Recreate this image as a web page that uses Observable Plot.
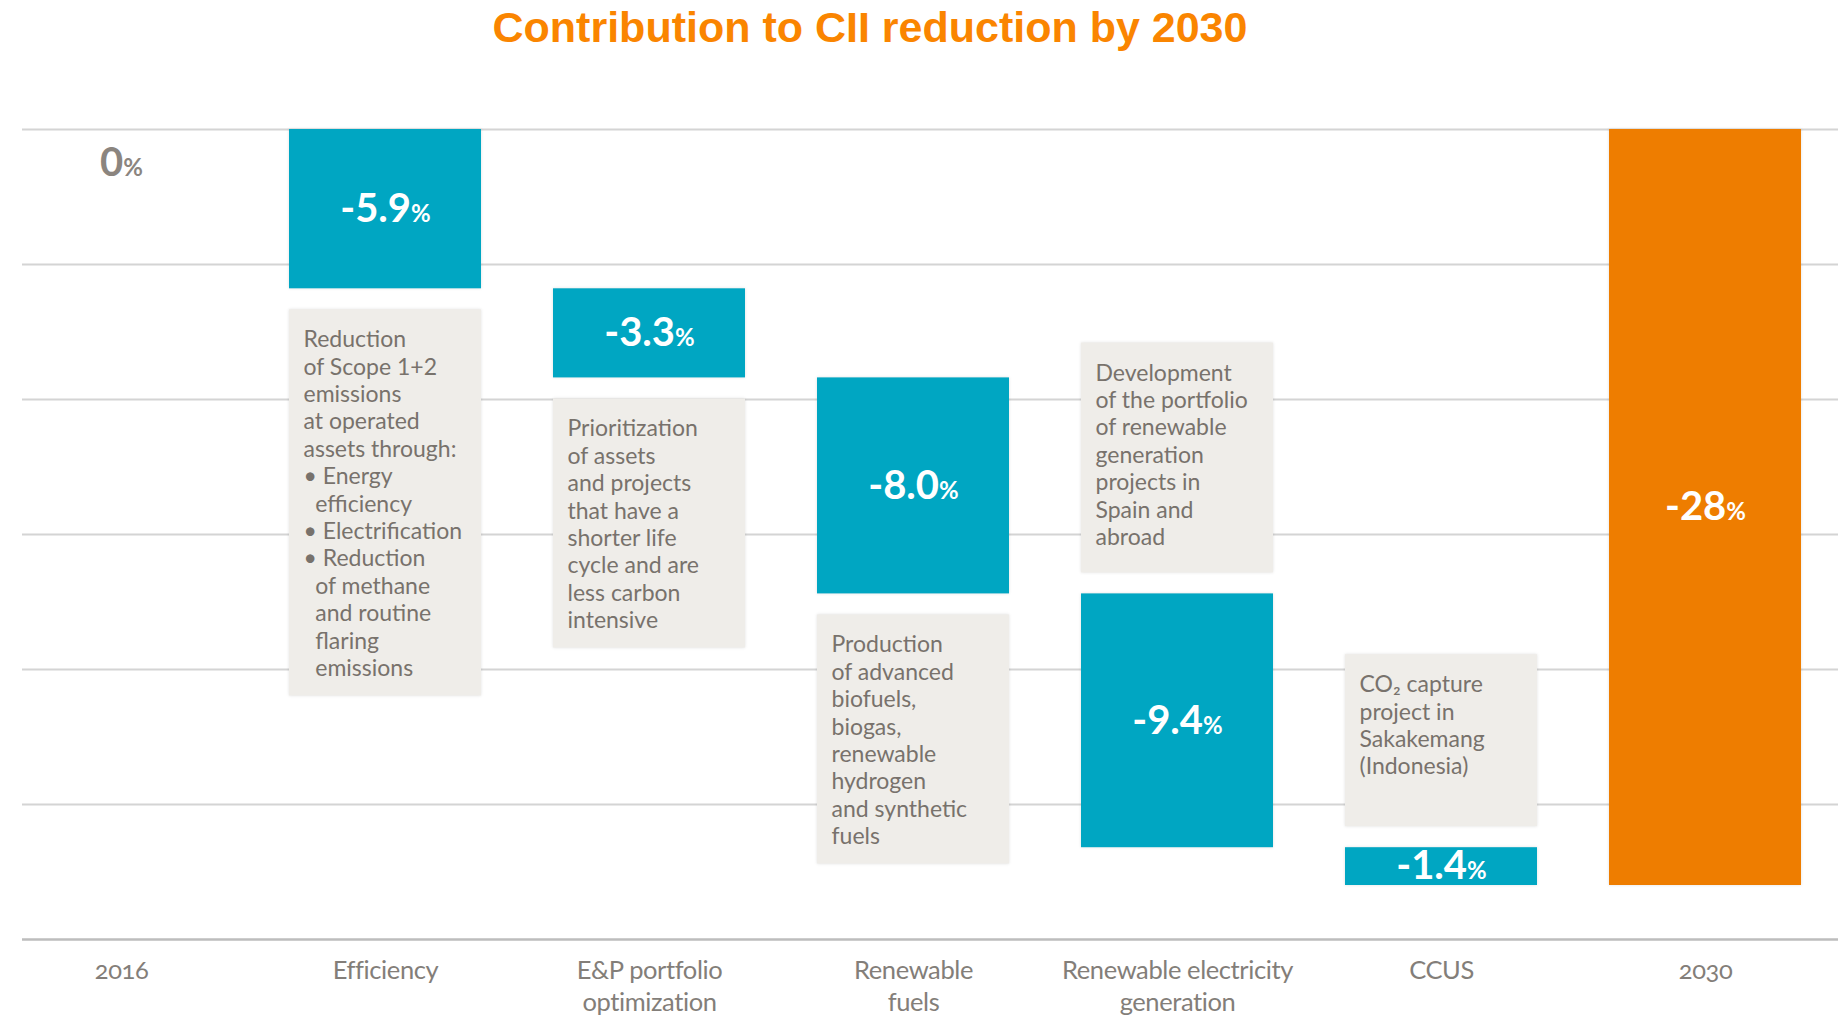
<!DOCTYPE html>
<html>
<head>
<meta charset="utf-8">
<script src="https://cdn.jsdelivr.net/npm/d3@7"></script>
<script src="https://cdn.jsdelivr.net/npm/@observablehq/plot@0.6"></script>
<style>
html, body { margin: 0; padding: 0; background: #ffffff; }
body { width: 1838px; height: 1021px; position: relative; overflow: hidden; }
#title {
  position: absolute; left: 0; top: 6px; width: 1740px; text-align: center;
  font-family: "Liberation Sans", Arial, sans-serif; font-weight: bold;
  font-size: 43px; line-height: 43px; color: #FA8500;
}
#chart { position: absolute; left: 0; top: 70px; }
</style>
</head>
<body>
<div id="title">Contribution to CII reduction by 2030</div>
<div id="chart"></div>
<script>
// ---- data ----
const categories = ["2016", "Efficiency", "E&P portfolio optimization", "Renewable fuels",
  "Renewable electricity generation", "CCUS", "2030"];
const tickLabels = ["2016", "Efficiency", "E&P portfolio\noptimization", "Renewable\nfuels",
  "Renewable electricity\ngeneration", "CCUS", "2030"];
const contributions = [0, -5.9, -3.3, -8.0, -9.4, -1.4, -28];
const valueLabels = ["0", "-5.9", "-3.3", "-8.0", "-9.4", "-1.4", "-28"];
const kinds = ["start", "step", "step", "step", "step", "step", "total"];
const notes = [
  "",
  "Reduction\nof Scope 1+2\nemissions\nat operated\nassets through:\n• Energy\n\u00a0\u00a0efficiency\n• Electrification\n• Reduction\n\u00a0\u00a0of methane\n\u00a0\u00a0and routine\n\u00a0\u00a0flaring\n\u00a0\u00a0emissions",
  "Prioritization\nof assets\nand projects\nthat have a\nshorter life\ncycle and are\nless carbon\nintensive",
  "Production\nof advanced\nbiofuels,\nbiogas,\nrenewable\nhydrogen\nand synthetic\nfuels",
  "Development\nof the portfolio\nof renewable\ngeneration\nprojects in\nSpain and\nabroad",
  "CO\u2082 capture\nproject in\nSakakemang\n(Indonesia)",
  ""
];
const notePositions = ["", "below", "below", "below", "above", "above", ""];
const gridValues = [0, -5, -10, -15, -20, -25];
const yDomain = [-30, 0];

// ---- layout / style ----
const W = 1838, H = 951, mT = 59, mB = 82, mL = 22, mR = 0;
const TEAL = "#00A6C2", ORANGE = "#EE7D00", BOX = "#EFEDE9";
const NOTE_TXT = "#78726c", AXIS_TXT = "#837e79", ZERO_TXT = "#8b857f";
const LINE = 27.4;
const ppu = (H - mT - mB) / (yDomain[1] - yDomain[0]);

// ---- derived waterfall rows ----
let cum = 0;
const rows = categories.map((cat, i) => {
  const v = contributions[i];
  let y1, y2;
  if (kinds[i] === "start") { y1 = v; y2 = v; cum = v; }
  else if (kinds[i] === "step") { y1 = cum; y2 = cum + v; cum = y2; }
  else { y1 = 0; y2 = v; }
  return { cat, tick: tickLabels[i], value: v, label: valueLabels[i] + "%", kind: kinds[i],
           y1, y2, note: notes[i], notePos: notePositions[i] };
});
const barRows = rows.filter(d => d.kind !== "start");
const startRows = rows.filter(d => d.kind === "start");
const noteRows = rows.filter(d => d.note).map(d => {
  const n = d.note.split("\n").length;
  const padPx = d.notePos === "above" ? 38 : 30;
  const h = Math.max(n * LINE + padPx, 172) / ppu;
  const gap = 21 / ppu;
  let top, bottom;
  if (d.notePos === "below") { top = Math.min(d.y1, d.y2) - gap; bottom = top - h; }
  else { bottom = Math.max(d.y1, d.y2) + gap; top = bottom + h; }
  return { ...d, top, bottom };
});

const chart = Plot.plot({
  width: W, height: H,
  marginTop: mT, marginBottom: mB, marginLeft: mL, marginRight: mR,
  style: { fontFamily: "Lato, 'Noto Sans', sans-serif", background: "#ffffff", color: AXIS_TXT },
  x: { type: "band", domain: categories, range: [24.4, 1801], paddingInner: 0.273, paddingOuter: 0 },
  y: { domain: yDomain, axis: null },
  marks: [
    Plot.ruleY(gridValues, { stroke: "#d4d4d4", strokeWidth: 2 }),
    Plot.ruleY([yDomain[0]], { stroke: "#bdbdbd", strokeWidth: 2.5 }),
    Plot.barY(noteRows, { x: "cat", y1: "top", y2: "bottom", fill: BOX, ariaDescription: "note-boxes" }),
    Plot.text(noteRows, {
      x: "cat", y: "top", text: "note", textAnchor: "start", lineAnchor: "top",
      dx: -82, dy: 18, fontSize: 23, lineHeight: LINE / 23, fill: NOTE_TXT
    }),
    Plot.barY(barRows, { x: "cat", y1: "y1", y2: "y2", fill: d => d.kind === "total" ? ORANGE : TEAL, ariaDescription: "bars" }),
    Plot.text(barRows, {
      x: "cat", y: d => (d.y1 + d.y2) / 2, text: "label", fill: "#ffffff",
      fontSize: 40, fontWeight: "bold", ariaDescription: "value-labels"
    }),
    Plot.text(startRows, {
      x: "cat", y: "y1", text: "label", fill: ZERO_TXT, dy: 34,
      fontSize: 40, fontWeight: "bold", ariaDescription: "value-labels"
    }),
    Plot.axisX({
      tickSize: 0, tickPadding: 17, fontSize: 25.5, lineHeight: 32 / 25.5, label: null,
      tickFormat: d => tickLabels[categories.indexOf(d)]
    })
  ]
});

document.getElementById("chart").appendChild(chart);

// smaller percent signs
d3.select(chart).selectAll('g[aria-description="value-labels"] text').each(function () {
  const t = this.textContent;
  if (t.endsWith("%")) {
    const sel = d3.select(this);
    sel.text(t.slice(0, -1));
    sel.append("tspan").attr("font-size", "0.6em").text("%");
  }
});
// axis labels: tight spacing, old-style figures
d3.select(chart).selectAll('g[aria-label="x-axis tick label"]')
  .style("letter-spacing", "-0.4px")
  .style("font-variant-numeric", "oldstyle-nums");
// subtle soft edges on boxes and bars
d3.select(chart).selectAll('g[aria-description="note-boxes"], g[aria-description="bars"]')
  .style("filter", "drop-shadow(0 0 1.5px rgba(0,0,0,0.12))");
</script>
</body>
</html>
